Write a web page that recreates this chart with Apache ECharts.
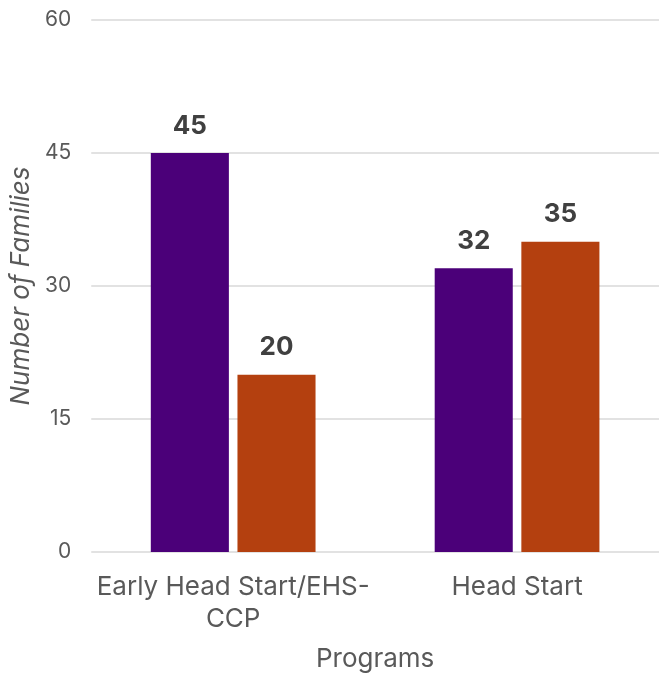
<!DOCTYPE html>
<html>
<head>
<meta charset="utf-8">
<script src="https://cdn.jsdelivr.net/npm/echarts@6/dist/echarts.min.js"></script>
<style>
  html, body { margin: 0; padding: 0; background: #fff; }
  #chart { width: 659px; height: 677px; }
</style>
</head>
<body>
<div id="chart"></div>
<script>
// Program categories and the two family counts per program
const categories = ['Early Head Start/EHS-\nCCP', 'Head Start'];
const seriesA = [45, 32];
const seriesB = [20, 35];
const yTicks = { min: 0, max: 60, interval: 15 };

const FONT = 'Inter';
const chart = echarts.init(document.getElementById('chart'), null, { renderer: 'canvas' });

const labelStyle = {
  show: true,
  position: 'top',
  distance: 14,
  color: '#404040',
  fontFamily: FONT,
  fontWeight: 'bold',
  fontSize: 26
};

chart.setOption({
  animation: false,
  grid: { left: 90, width: 574, top: 20, bottom: 122 },
  xAxis: {
    type: 'category',
    data: categories,
    name: 'Programs',
    nameLocation: 'middle',
    nameGap: 94,
    nameTextStyle: { color: '#595959', fontFamily: FONT, fontSize: 26 },
    axisLine: { show: false },
    axisTick: { show: false },
    axisLabel: {
      color: '#595959', fontFamily: FONT, fontSize: 26,
      margin: 19, lineHeight: 32, interval: 0
    }
  },
  yAxis: {
    type: 'value',
    min: yTicks.min,
    max: yTicks.max,
    interval: yTicks.interval,
    name: 'Number of Families',
    nameLocation: 'middle',
    nameGap: 53,
    nameTextStyle: { color: '#595959', fontFamily: FONT, fontSize: 26, fontStyle: 'italic' },
    axisLine: { show: false },
    axisTick: { show: false },
    axisLabel: { color: '#595959', fontFamily: FONT, fontSize: 21, margin: 20 },
    splitLine: { lineStyle: { color: '#d9d9d9', width: 1.5 } }
  },
  series: [
    {
      type: 'bar',
      data: seriesA,
      barWidth: '27.5%',
      barGap: '11%',
      itemStyle: { color: '#4b0079' },
      label: labelStyle
    },
    {
      type: 'bar',
      data: seriesB,
      barWidth: '27.5%',
      itemStyle: { color: '#b4400f' },
      label: labelStyle
    }
  ]
});
</script>
</body>
</html>
